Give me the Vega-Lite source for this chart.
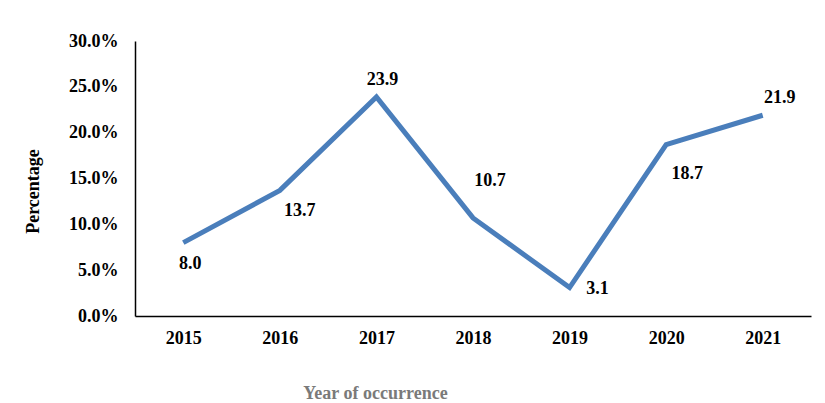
{
  "$schema": "https://vega.github.io/schema/vega-lite/v6.json",
  "width": 676,
  "height": 275,
  "autosize": "none",
  "padding": {"left": 135, "top": 41, "right": 14, "bottom": 87},
  "background": "white",
  "config": {
    "view": {"stroke": null},
    "font": "Liberation Serif"
  },
  "data": {
    "values": [
      {"year": "2015", "pct": 8.0},
      {"year": "2016", "pct": 13.7},
      {"year": "2017", "pct": 23.9},
      {"year": "2018", "pct": 10.7},
      {"year": "2019", "pct": 3.1},
      {"year": "2020", "pct": 18.7},
      {"year": "2021", "pct": 21.9}
    ]
  },
  "encoding": {
    "x": {
      "field": "year", "type": "ordinal",
      "scale": {"type": "point", "padding": 0.5},
      "axis": {
        "title": "Year of occurrence", "labelAngle": 0, "ticks": false, "grid": false,
        "domainColor": "#000000", "domainWidth": 1.5,
        "labelFont": "Liberation Serif", "labelFontSize": 18, "labelFontWeight": "bold", "labelColor": "#000000",
        "labelPadding": 13,
        "titleFont": "Liberation Serif", "titleFontSize": 18, "titleFontWeight": "bold", "titleColor": "#7a7a7a",
        "titleX": 240, "titleY": 77, "titleBaseline": "middle", "titleAlign": "center"
      }
    },
    "y": {
      "field": "pct", "type": "quantitative",
      "scale": {"domain": [0, 30], "nice": false},
      "axis": {
        "title": "Percentage", "values": [0, 5, 10, 15, 20, 25, 30],
        "labelExpr": "format(datum.value, '.1f') + '%'",
        "ticks": false, "grid": false,
        "domainColor": "#000000", "domainWidth": 1.5,
        "labelFont": "Liberation Serif", "labelFontSize": 18, "labelFontWeight": "bold", "labelColor": "#000000",
        "labelPadding": 17,
        "titleFont": "Liberation Serif", "titleFontSize": 18, "titleFontWeight": "bold", "titleColor": "#000000",
        "titleX": -102, "titleY": 150, "titleBaseline": "middle", "titleAlign": "center", "titleAngle": -90
      }
    }
  },
  "layer": [
    {"mark": {"type": "line", "color": "#4a7ebb", "strokeWidth": 5, "strokeJoin": "miter"}},
    {"transform": [{"filter": "datum.year == '2015'"}], "mark": {"type": "text", "dx": 7, "dy": 21, "fontSize": 18, "fontWeight": "bold", "font": "Liberation Serif", "color": "#000000"}, "encoding": {"text": {"field": "pct", "type": "quantitative", "format": ".1f"}}},
    {"transform": [{"filter": "datum.year == '2016'"}], "mark": {"type": "text", "dx": 20, "dy": 21, "fontSize": 18, "fontWeight": "bold", "font": "Liberation Serif", "color": "#000000"}, "encoding": {"text": {"field": "pct", "type": "quantitative", "format": ".1f"}}},
    {"transform": [{"filter": "datum.year == '2017'"}], "mark": {"type": "text", "dx": 6, "dy": -17, "fontSize": 18, "fontWeight": "bold", "font": "Liberation Serif", "color": "#000000"}, "encoding": {"text": {"field": "pct", "type": "quantitative", "format": ".1f"}}},
    {"transform": [{"filter": "datum.year == '2018'"}], "mark": {"type": "text", "dx": 17, "dy": -37, "fontSize": 18, "fontWeight": "bold", "font": "Liberation Serif", "color": "#000000"}, "encoding": {"text": {"field": "pct", "type": "quantitative", "format": ".1f"}}},
    {"transform": [{"filter": "datum.year == '2019'"}], "mark": {"type": "text", "dx": 28, "dy": 1, "fontSize": 18, "fontWeight": "bold", "font": "Liberation Serif", "color": "#000000"}, "encoding": {"text": {"field": "pct", "type": "quantitative", "format": ".1f"}}},
    {"transform": [{"filter": "datum.year == '2020'"}], "mark": {"type": "text", "dx": 21, "dy": 29, "fontSize": 18, "fontWeight": "bold", "font": "Liberation Serif", "color": "#000000"}, "encoding": {"text": {"field": "pct", "type": "quantitative", "format": ".1f"}}},
    {"transform": [{"filter": "datum.year == '2021'"}], "mark": {"type": "text", "dx": 17, "dy": -17, "fontSize": 18, "fontWeight": "bold", "font": "Liberation Serif", "color": "#000000"}, "encoding": {"text": {"field": "pct", "type": "quantitative", "format": ".1f"}}}
  ]
}
